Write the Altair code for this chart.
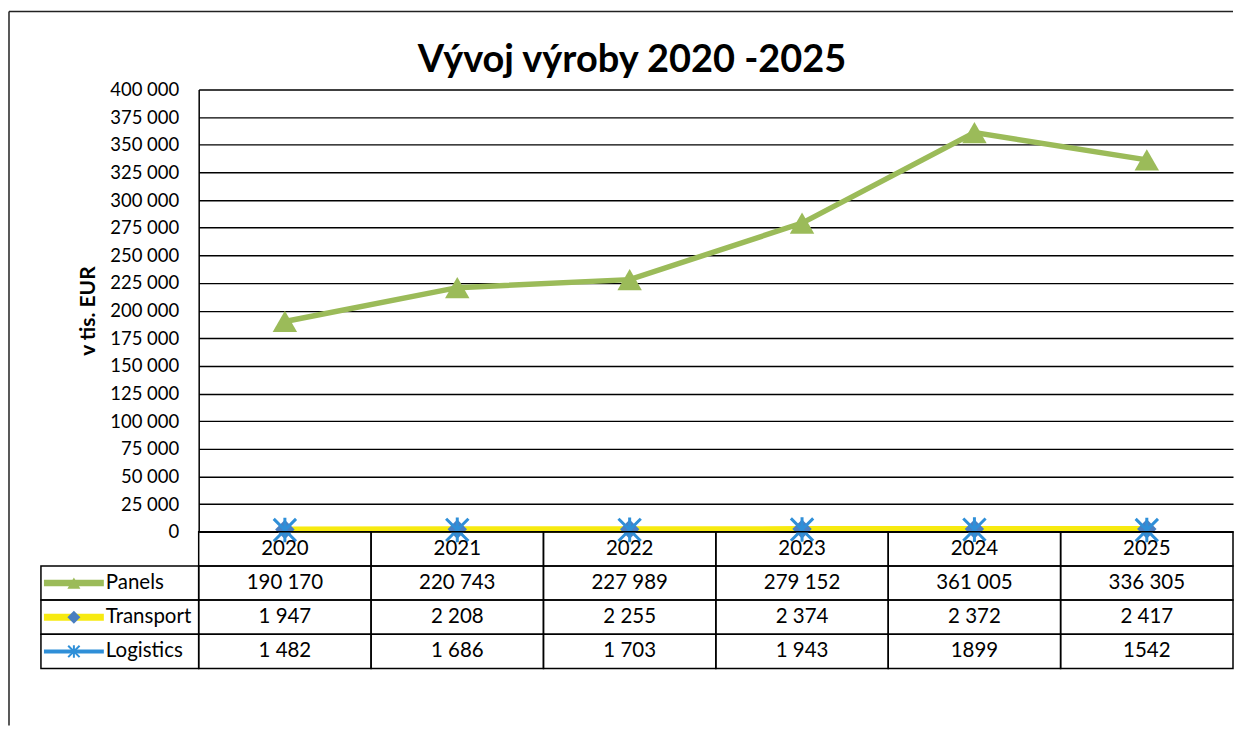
import altair as alt
import pandas as pd

years = ["2020", "2021", "2022", "2023", "2024", "2025"]
series = ["Panels", "Transport", "Logistics"]
panels = [190170, 220743, 227989, 279152, 361005, 336305]
transport = [1947, 2208, 2255, 2374, 2372, 2417]
logistics = [1482, 1686, 1703, 1943, 1899, 1542]
no_space_cells = [("Logistics", "2024"), ("Logistics", "2025")]
y_ticks = list(range(0, 400001, 25000))
title_text = "Vývoj výroby 2020 -2025"
y_title = "v tis. EUR"

line_colors = {"Panels": "#9BBB59", "Transport": "#F7EA10", "Logistics": "#2F8FD8"}
marker_colors = {"Panels": "#9BBB59", "Transport": "#4A7FC1", "Logistics": "#2F8FD8"}
line_widths = {"Panels": 5.5, "Transport": 6, "Logistics": 3}
STAR = "M-1,-1L1,1M1,-1L-1,1M0,-1.1L0,1.1"

W, H = 1036, 443
TH = 137
FONT = "Lato"
FS_TICK = 18.5
FS_TAB = 20.5

values = {"Panels": panels, "Transport": transport, "Logistics": logistics}
long = pd.DataFrame(
    [{"year": y, "series": s, "value": v} for s in series for y, v in zip(years, values[s])]
)

xs = alt.Scale(domain=years, paddingInner=0, paddingOuter=0)
X = alt.X("year:N", scale=xs, axis=None)

yaxis = alt.Axis(
    values=y_ticks,
    labelExpr="replace(format(datum.value, ','), ',', ' ')",
    grid=True, gridColor="black", gridWidth=1.4,
    domain=True, domainColor="black", domainWidth=1.5,
    ticks=False, labelPadding=20, labelFontSize=FS_TICK, labelFont=FONT,
    labelColor="black", title=y_title, titleFont=FONT, titleFontSize=21,
    titleFontWeight="bold", titleColor="black", titleX=-110, titleY=H / 2,
    titleBaseline="middle", titleAlign="center", titleAngle=-90,
)
Y = alt.Y("value:Q", scale=alt.Scale(domain=[0, 400000], nice=False), axis=yaxis)

one = pd.DataFrame({"a": [0]})
frame_left = alt.Chart(one).mark_rule(color="#222", strokeWidth=1.5).encode(
    x=alt.value(-190), y=alt.value(-78), y2=alt.value(637)
)
frame_top = alt.Chart(one).mark_rule(color="#222", strokeWidth=1.5).encode(
    x=alt.value(-190), x2=alt.value(W), y=alt.value(-78)
)
title = alt.Chart(pd.DataFrame({"t": [title_text]})).mark_text(
    font=FONT, fontSize=38, fontWeight="bold", color="black", align="center", baseline="middle"
).encode(x=alt.value(434), y=alt.value(-28), text="t:N")

base = alt.Chart(long)
layers = [frame_left, frame_top, title]
for s in ["Panels", "Logistics", "Transport"]:
    layers.append(
        base.transform_filter(alt.datum.series == s)
        .mark_line(color=line_colors[s], strokeWidth=line_widths[s])
        .encode(x=X, y=Y)
    )
layers.append(
    base.transform_filter(alt.datum.series == "Panels")
    .mark_point(shape="triangle-up", filled=True, size=600, color=marker_colors["Panels"], opacity=1)
    .encode(x=X, y=Y)
)
layers.append(
    base.transform_filter(alt.datum.series == "Transport")
    .mark_point(shape="diamond", filled=True, size=380, color=marker_colors["Transport"], opacity=1)
    .encode(x=X, y=Y)
)
layers.append(
    base.transform_filter(alt.datum.series == "Logistics")
    .mark_point(shape=STAR, filled=False, size=500, color=marker_colors["Logistics"], strokeWidth=3, opacity=1)
    .encode(x=X, y=Y)
)
top = alt.layer(*layers).properties(width=W, height=H)

# table
row_domain = ["hdr"] + series
ys = alt.Scale(domain=row_domain, paddingInner=0, paddingOuter=0)
YR = alt.Y("row:N", scale=ys, axis=None)


def fmt(s, y, v):
    if (s, y) in no_space_cells:
        return str(v)
    return f"{v:,}".replace(",", " ")


cells = [{"year": y, "row": "hdr", "text": y} for y in years]
for s in series:
    for y, v in zip(years, values[s]):
        cells.append({"year": y, "row": s, "text": fmt(s, y, v)})
cells = pd.DataFrame(cells)
rows_df = pd.DataFrame({"row": series})

t_rect = alt.Chart(cells).mark_rect(fill="white", fillOpacity=0, stroke="black", strokeWidth=1.5).encode(x=X, y=YR)
t_text = alt.Chart(cells).mark_text(font=FONT, fontSize=FS_TAB, color="black", baseline="middle").encode(
    x=X, y=YR, text="text:N"
)
lab_rect = alt.Chart(rows_df).mark_rect(fill="white", fillOpacity=0, stroke="black", strokeWidth=1.5).encode(
    x=alt.value(-158), x2=alt.value(0), y=YR
)
lab_text = alt.Chart(rows_df).mark_text(
    font=FONT, fontSize=FS_TAB, color="black", align="left", baseline="middle"
).encode(x=alt.value(-93), y=YR, text="row:N")
tlayers = [t_rect, t_text, lab_rect, lab_text]
for s in series:
    tlayers.append(
        alt.Chart(rows_df).transform_filter(alt.datum.row == s)
        .mark_rule(color=line_colors[s], strokeWidth=line_widths[s] + 1)
        .encode(x=alt.value(-155), x2=alt.value(-95), y=YR)
    )
tlayers.append(
    alt.Chart(rows_df).transform_filter(alt.datum.row == "Panels")
    .mark_point(shape="triangle-up", filled=True, size=170, color=marker_colors["Panels"], opacity=1)
    .encode(x=alt.value(-125), y=YR)
)
tlayers.append(
    alt.Chart(rows_df).transform_filter(alt.datum.row == "Transport")
    .mark_point(shape="diamond", filled=True, size=170, color=marker_colors["Transport"], opacity=1)
    .encode(x=alt.value(-125), y=YR)
)
tlayers.append(
    alt.Chart(rows_df).transform_filter(alt.datum.row == "Logistics")
    .mark_point(shape=STAR, filled=False, size=130, color=marker_colors["Logistics"], strokeWidth=2, opacity=1)
    .encode(x=alt.value(-125), y=YR)
)
table = alt.layer(*tlayers).properties(width=W, height=TH)

chart = (
    alt.vconcat(top, table, spacing=0, bounds="flush")
    .properties(padding={"left": 0, "top": 2, "right": 0, "bottom": 0}, background="white")
    .configure_view(stroke=None)
)
chart.save("out.html", embed_options={"renderer": "svg", "actions": False})
